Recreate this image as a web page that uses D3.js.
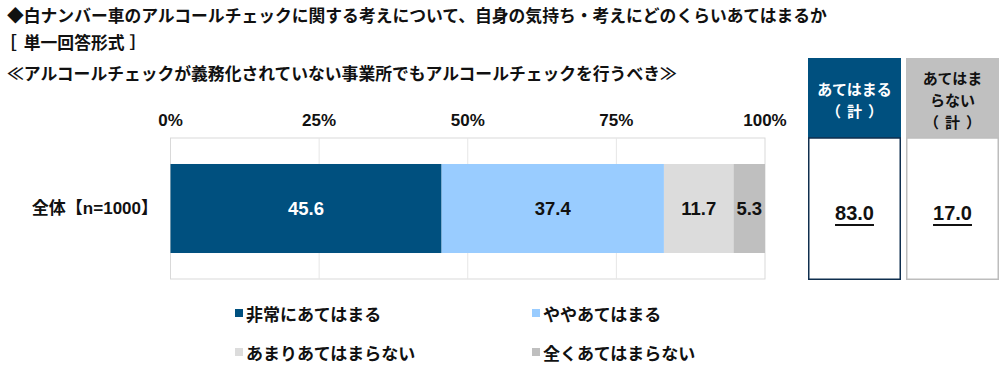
<!DOCTYPE html>
<html>
<head>
<meta charset="utf-8">
<script src="https://cdn.jsdelivr.net/npm/d3@7"></script>
<style>
  body { margin: 0; background: #fff; }
  text { font-family: "Liberation Sans", "Noto Sans CJK JP", sans-serif; font-weight: bold; }
  text.jp { font-family: "Noto Sans CJK JP", sans-serif; }
</style>
</head>
<body>
<div id="canvas"></div>
<script>
// data
var titleLines = ["◆白ナンバー車のアルコールチェックに関する考えについて、自身の気持ち・考えにどのくらいあてはまるか", "［", "単一回答形式", "］"];
var question = "≪アルコールチェックが義務化されていない事業所でもアルコールチェックを行うべき≫";
var categories = ["全体【n=1000】"];
var seriesNames = ["非常にあてはまる", "ややあてはまる", "あまりあてはまらない", "全くあてはまらない"];
var seriesValues = [[45.6], [37.4], [11.7], [5.3]];
var seriesColors = ["#00507f", "#99ccff", "#dcdcdc", "#bfbfbf"];
var labelColors = ["#ffffff", "#111111", "#111111", "#111111"];
var tickValues = [0, 25, 50, 75, 100];
var sumHeaders = [["あてはまる", "（計）"], ["あてはま", "らない", "（計）"]];
var sumValues = ["83.0", "17.0"];

var width = 1000, height = 383;
var svg = d3.select("#canvas").append("svg")
    .attr("width", width)
    .attr("height", height);

// titles
svg.append("text").attr("class", "jp").attr("x", 7).attr("y", 15).attr("dominant-baseline", "central")
    .style("font-size", "16.8px").attr("fill", "#111").text(titleLines[0]);
var sub = svg.append("text").attr("class", "jp").attr("x", 0).attr("y", 42).attr("dominant-baseline", "central")
    .style("font-size", "16.8px").attr("fill", "#111");
sub.append("tspan").text(titleLines[1]);
sub.append("tspan").attr("dx", 7).text(titleLines[2]);
sub.append("tspan").attr("dx", 5).text(titleLines[3]);
svg.append("text").attr("class", "jp").attr("x", 7).attr("y", 73).attr("dominant-baseline", "central")
    .style("font-size", "16.8px").attr("fill", "#111").text(question);

// plot
var plot = {left: 170.5, right: 765, top: 138, bottom: 279};
var x = d3.scaleLinear().domain([0, 100]).range([plot.left, plot.right]);
var y = d3.scaleBand().domain(categories).range([plot.top, plot.bottom]).paddingInner(0).paddingOuter(0.292);

svg.append("rect")
    .attr("x", plot.left).attr("y", plot.top)
    .attr("width", plot.right - plot.left).attr("height", plot.bottom - plot.top)
    .attr("fill", "none").attr("stroke", "#d9d9d9").attr("stroke-width", 1);

// grid
svg.selectAll("line.grid").data(tickValues.slice(1, -1)).enter().append("line")
    .attr("class", "grid")
    .attr("x1", function(d){ return x(d); }).attr("x2", function(d){ return x(d); })
    .attr("y1", plot.top).attr("y2", plot.bottom)
    .attr("stroke", "#e6e6e6").attr("stroke-width", 1);

// tick labels
svg.selectAll("text.tick").data(tickValues).enter().append("text")
    .attr("class", "tick")
    .attr("x", function(d){ return x(d); })
    .attr("y", 120)
    .attr("text-anchor", "middle").attr("dominant-baseline", "central")
    .style("font-size", "17px").attr("fill", "#111")
    .text(function(d){ return d + "%"; });

// stacked segments
var stackData = categories.map(function(c, ci) {
    var acc = 0;
    return seriesValues.map(function(v, si) {
        var seg = {cat: c, si: si, x0: acc, x1: acc + v[ci], v: v[ci]};
        acc += v[ci];
        return seg;
    });
});
var segs = [].concat.apply([], stackData);

svg.selectAll("rect.seg").data(segs).enter().append("rect")
    .attr("class", "seg")
    .attr("x", function(d){ return x(d.x0); })
    .attr("y", function(d){ return y(d.cat); })
    .attr("width", function(d){ return x(d.x1) - x(d.x0); })
    .attr("height", y.bandwidth())
    .attr("fill", function(d){ return seriesColors[d.si]; });

svg.selectAll("text.val").data(segs).enter().append("text")
    .attr("class", "val")
    .attr("x", function(d){ return (x(d.x0) + x(d.x1)) / 2; })
    .attr("y", function(d){ return y(d.cat) + y.bandwidth() / 2; })
    .attr("text-anchor", "middle").attr("dominant-baseline", "central")
    .style("font-size", "18.5px")
    .attr("fill", function(d){ return labelColors[d.si]; })
    .text(function(d){ return d.v.toFixed(1); });

// category label
svg.selectAll("text.cat").data(categories).enter().append("text")
    .attr("class", "cat")
    .attr("x", 158)
    .attr("y", function(d){ return y(d) + y.bandwidth() / 2; })
    .attr("text-anchor", "end").attr("dominant-baseline", "central")
    .style("font-size", "17px").attr("fill", "#111")
    .text(function(d){ return d; });

// summary boxes
var boxX = [808, 906], boxW = 93, boxTop = 58, boxHead = 138, boxBot = 280;
var boxFill = ["#00507f", "#c0c0c0"], boxStroke = ["#0f2e4e", "#bdbdbd"], headColor = ["#ffffff", "#111111"];
sumValues.forEach(function(v, i) {
    var g = svg.append("g");
    g.append("rect").attr("x", boxX[i]).attr("y", boxTop).attr("width", boxW).attr("height", boxHead - boxTop)
        .attr("fill", boxFill[i]);
    g.append("rect").attr("x", boxX[i] + 0.75).attr("y", boxHead).attr("width", boxW - 1.5).attr("height", boxBot - boxHead - 0.75)
        .attr("fill", "#fff").attr("stroke", boxStroke[i]).attr("stroke-width", 1.5);
    var lines = sumHeaders[i];
    var lh = 22;
    var cy = (boxTop + boxHead) / 2 + 1;
    var head = g.append("text").attr("class", "jp")
        .attr("text-anchor", "middle").attr("dominant-baseline", "central")
        .style("font-size", "15px")
        .attr("fill", headColor[i]);
    lines.forEach(function(t, li) {
        var isParen = t.charAt(0) === "（";
        head.append("tspan")
            .attr("x", boxX[i] + boxW / 2 + (isParen ? 3 : 0))
            .attr("y", cy + (li - (lines.length - 1) / 2) * lh)
            .style("letter-spacing", isParen ? "6px" : "0px")
            .text(t);
    });
    g.append("text")
        .attr("x", boxX[i] + boxW / 2).attr("y", 213)
        .attr("text-anchor", "middle").attr("dominant-baseline", "central")
        .style("font-size", "20px").style("text-decoration", "underline").attr("fill", "#111")
        .text(v);
});

// legend
var legX = [235, 532], legY = [313, 352];
var leg = svg.selectAll("g.leg").data(seriesNames).enter().append("g")
    .attr("class", "leg")
    .attr("transform", function(d, i){ return "translate(" + [legX[i % 2], legY[Math.floor(i / 2)]] + ")"; });
leg.append("rect").attr("x", 0).attr("y", -4).attr("width", 8).attr("height", 8)
    .attr("fill", function(d, i){ return seriesColors[i]; });
leg.append("text").attr("class", "jp").attr("x", 11).attr("y", 0).attr("dominant-baseline", "central")
    .style("font-size", "17px").attr("fill", "#111")
    .text(function(d){ return d; });
</script>
</body>
</html>
